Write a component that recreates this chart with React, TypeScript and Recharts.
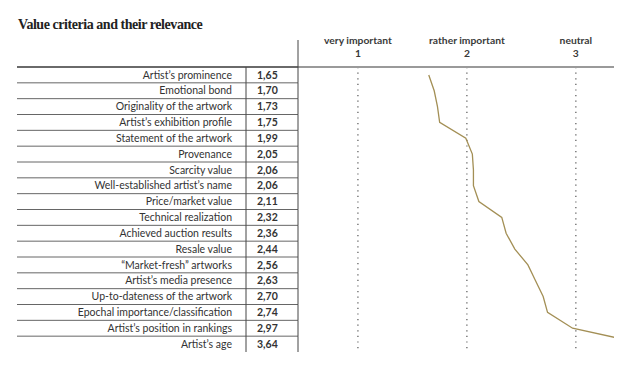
import { Line, LineChart, ReferenceLine, XAxis, YAxis } from 'recharts';

const criteria = [
  'Artist’s prominence',
  'Emotional bond',
  'Originality of the artwork',
  'Artist’s exhibition profile',
  'Statement of the artwork',
  'Provenance',
  'Scarcity value',
  'Well-established artist’s name',
  'Price/market value',
  'Technical realization',
  'Achieved auction results',
  'Resale value',
  '“Market-fresh” artworks',
  'Artist’s media presence',
  'Up-to-dateness of the artwork',
  'Epochal importance/classification',
  'Artist’s position in rankings',
  'Artist’s age',
];

const scores = [1.65, 1.7, 1.73, 1.75, 1.99, 2.05, 2.06, 2.06, 2.11, 2.32, 2.36, 2.44, 2.56, 2.63, 2.7, 2.74, 2.97, 3.64];

const scaleTicks = [1, 2, 3];
const scaleLabels = ['very important', 'rather important', 'neutral'];

const data = criteria.map((label, i) => ({ label, score: scores[i] }));

const W = 640;
const H = 373;
const TOP = 67;
const BOTTOM = 21;
const BAND = (H - TOP - BOTTOM) / criteria.length;
const TABLE_LEFT = 17;
const COL_SEP = 246;
const TABLE_RIGHT = 298;
const FONT = 'Lato, "Open Sans", sans-serif';

const fmt = (v: number) => v.toFixed(2).replace('.', ',');

function RowTick(props: any) {
  const { y, payload, index } = props;
  const i = index ?? payload?.index ?? 0;
  const top = y - BAND / 2;
  const bottom = y + BAND / 2;
  return (
    <g>
      {i === 0 && (
        <>
          <line x1={TABLE_LEFT} x2={TABLE_RIGHT} y1={top} y2={top} stroke="#6a6a6a" strokeWidth={2} />
          <line x1={TABLE_RIGHT} x2={TABLE_RIGHT} y1={40} y2={top} stroke="#444" />
        </>
      )}
      {i < criteria.length - 1 && (
        <line x1={TABLE_LEFT} x2={TABLE_RIGHT} y1={bottom} y2={bottom} stroke="#666" />
      )}
      <line x1={COL_SEP} x2={COL_SEP} y1={top} y2={bottom} stroke="#444" />
      <line x1={TABLE_RIGHT} x2={TABLE_RIGHT} y1={top} y2={bottom} stroke="#444" />
      <text x={232} y={y} dy="0.35em" textAnchor="end" fontSize={10.5} fill="#333" fontFamily={FONT}>
        {payload.value}
      </text>
      <text x={257} y={y} dy="0.35em" fontSize={10.5} fontWeight="bold" fill="#333" fontFamily={FONT}>
        {fmt(scores[i])}
      </text>
    </g>
  );
}

function TopTick(props: any) {
  const { x, payload } = props;
  const i = scaleTicks.indexOf(payload.value);
  return (
    <g fontSize={10.3} fontWeight="bold" fill="#3a3a3a" fontFamily={FONT} textAnchor="middle">
      <text x={x} y={40} dy="0.35em">
        {scaleLabels[i]}
      </text>
      <text x={x} y={53} dy="0.35em">
        {payload.value}
      </text>
    </g>
  );
}

export default function App() {
  return (
    <div style={{ position: 'absolute', left: 0, top: 0, width: W, height: H, background: '#fff' }}>
      <div
        style={{
          position: 'absolute',
          left: 18,
          top: 17,
          fontFamily: '"Liberation Serif", serif',
          fontWeight: 'bold',
          fontSize: 14,
          color: '#222',
          letterSpacing: -0.45,
        }}
      >
        Value criteria and their relevance
      </div>
      <LineChart layout="vertical" width={W} height={H} data={data} margin={{ top: 0, right: 26, bottom: BOTTOM, left: TABLE_LEFT }}>
        <XAxis
          type="number"
          dataKey="score"
          orientation="top"
          domain={[0.45, 3.35]}
          allowDataOverflow
          ticks={scaleTicks}
          height={TOP}
          tick={<TopTick />}
          tickLine={false}
          axisLine={{ stroke: '#9a9a9a', strokeWidth: 2 }}
        />
        <YAxis
          type="category"
          dataKey="label"
          width={TABLE_RIGHT - TABLE_LEFT}
          interval={0}
          padding={{ top: BAND / 2, bottom: BAND / 2 }}
          tick={<RowTick />}
          tickLine={false}
          axisLine={false}
        />
        {scaleTicks.map((t) => (
          <ReferenceLine key={t} x={t} stroke="#555" strokeWidth={1.2} strokeDasharray="1.2 4.4" />
        ))}
        <Line dataKey="score" stroke="#a38f55" strokeWidth={1.3} dot={false} isAnimationActive={false} />
      </LineChart>
    </div>
  );
}
